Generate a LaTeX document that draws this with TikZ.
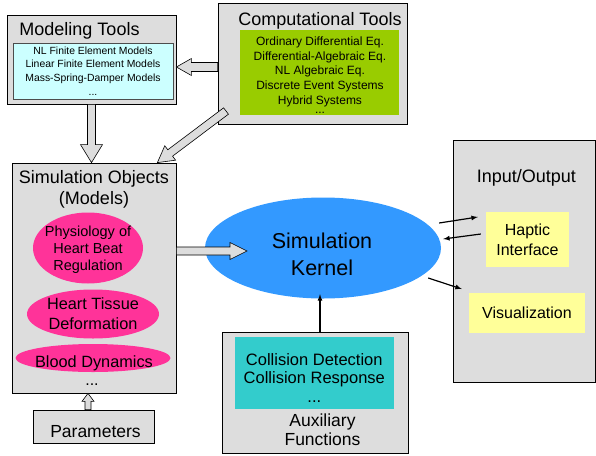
\documentclass[tikz,border=0pt]{standalone}
\usepackage{fontspec}
\setmainfont{Liberation Sans}
\usetikzlibrary{calc,shapes.geometric}

\definecolor{boxgray}{HTML}{DDDDDD}
\definecolor{modcyan}{HTML}{CCFFFF}
\definecolor{compgreen}{HTML}{99CC00}
\definecolor{objpink}{HTML}{FF3399}
\definecolor{kernblue}{HTML}{3399FF}
\definecolor{ioyellow}{HTML}{FFFF99}
\definecolor{auxteal}{HTML}{33CCCC}

% hollow block arrow: from, to, half shaft, half head, head length
\newcommand{\blockarrow}[5]{%
  \coordinate (ba-h) at ($(#2)!#5!(#1)$);
  \filldraw[fill=boxgray, draw=black, line width=0.6pt]
    ($(#1)!#3!90:(#2)$) -- ($(ba-h)!#3!-90:(#1)$) -- ($(ba-h)!#4!-90:(#1)$)
    -- (#2) -- ($(ba-h)!#4!90:(#1)$) -- ($(ba-h)!#3!90:(#1)$)
    -- ($(#1)!#3!-90:(#2)$) -- cycle;
}

\begin{document}
\begin{tikzpicture}[x=1pt,y=-1pt,>=latex,
  box/.style={draw=black, fill=boxgray, line width=0.8pt, inner sep=0pt},
  panel/.style={inner sep=0pt},
  blob/.style={ellipse, inner sep=0pt},
  conn/.style={->, line width=1.2pt},
  fsz/.style 2 args={font=\fontsize{#1}{#2}\selectfont, align=center, inner sep=0pt}]
\useasboundingbox (0,0) rectangle (596,455);

% modeling tools
\node[box, minimum width=169, minimum height=89] (model) at (91.5,59.5) {};
\node[panel, fill=modcyan, draw=black!70, line width=0.5pt, minimum width=160, minimum height=56, fsz={10.4}{13.7}] (modin) at (93,71)
  {NL Finite Element Models\\Linear Finite Element Models\\Mass-Spring-Damper Models\\...};
\node[fsz={18}{22}] (modtitle) at (79.5,30.4) {Modeling Tools};

% computational tools
\node[box, minimum width=189, minimum height=121] (comp) at (312.5,63.5) {};
\node[panel, fill=compgreen, minimum width=159, minimum height=85] (compin) at (319.5,72.5) {};
\node[fsz={12}{14.7}] (complist) at (320,75)
  {Ordinary Differential Eq.\\Differential-Algebraic Eq.\\NL Algebraic Eq.\\Discrete Event Systems\\Hybrid Systems\\[-6pt]...};
\node[fsz={18}{22}] (comptitle) at (320,20.4) {Computational Tools};

% simulation objects
\node[box, minimum width=164, minimum height=230] (simobj) at (94,278) {};
\node[fsz={18}{21}] (simtitle) at (94,189) {Simulation Objects\\(Models)};
\node[blob, fill=objpink, minimum width=110, minimum height=71] (physio) at (88,248) {};
\node[blob, fill=objpink, minimum width=132, minimum height=49] (tissue) at (93,314) {};
\node[blob, fill=objpink, minimum width=155, minimum height=28] (blood) at (93,358) {};
\node[fsz={14.5}{17.3}] (physiotext) at (88,249.6) {Physiology of\\Heart Beat\\Regulation};
\node[fsz={16.3}{19.3}] (tissuetext) at (93,313.7) {Heart Tissue\\Deformation};
\node[fsz={16.3}{19}] (bloodtext) at (94,363) {Blood Dynamics};
\node[fsz={16}{19}] (simdots) at (92,385) {...};

% parameters
\node[box, minimum width=121, minimum height=33] (param) at (93.5,426.5) {};
\node[fsz={17.5}{20}] (paramtext) at (95.5,432) {Parameters};

% kernel
\node[blob, fill=kernblue, minimum width=236, minimum height=101] (kernel) at (323,248) {};
\node[fsz={21.5}{26.7}] (kerneltext) at (322,254) {Simulation\\Kernel};

% input/output
\node[box, minimum width=142, minimum height=242] (io) at (524,261) {};
\node[fsz={18}{22}] (iotitle) at (526.3,178) {Input/Output};
\node[panel, fill=ioyellow, minimum width=83, minimum height=55, fsz={16}{19.7}] (hapt) at (527.5,239.5) {Haptic\\Interface};
\node[panel, fill=ioyellow, minimum width=116, minimum height=40, fsz={16}{19}] (visu) at (527,313) {Visualization};

% auxiliary functions
\node[box, minimum width=186, minimum height=121] (aux) at (315,392.5) {};
\node[panel, fill=auxteal, minimum width=159, minimum height=72] (auxin) at (314.5,373) {};
\node[fsz={16.5}{18.6}] (auxlist) at (314.3,378) {Collision Detection\\Collision Response\\...};
\node[fsz={17.5}{19}] (auxtitle) at (322.5,429.5) {Auxiliary\\Functions};

% block arrows
\coordinate (c2m-a) at (comp.west |- 0,67);
\coordinate (c2m-b) at (model.east |- 0,67);
\blockarrow{c2m-a}{c2m-b}{4.5pt}{8.5pt}{15pt}
\coordinate (m2s-a) at (model.south);
\coordinate (m2s-b) at (model.south |- simobj.north);
\blockarrow{m2s-a}{m2s-b}{4pt}{11pt}{18pt}
\coordinate (c2s-a) at (226,111);
\coordinate (c2s-b) at ($(simobj.north east)+(-19,0)$);
\blockarrow{c2s-a}{c2s-b}{4pt}{9pt}{16pt}
\coordinate (s2k-a) at (simobj.east |- 0,251);
\coordinate (s2k-b) at (247,251);
\blockarrow{s2k-a}{s2k-b}{4pt}{8.5pt}{17pt}
\coordinate (p2s-a) at ($(param.north)+(-5.5,0)$);
\coordinate (p2s-b) at (p2s-a |- simobj.south);
\blockarrow{p2s-a}{p2s-b}{3pt}{6pt}{8pt}

% plain arrows
\coordinate (k2h-a) at ($(kernel.east)+(-2,-25)$);
\coordinate (k2h-b) at ($(hapt.west)+(-8,-22.5)$);
\coordinate (h2k-a) at ($(hapt.west)+(-5,-5.5)$);
\coordinate (h2k-b) at ($(kernel.east)+(2,-9)$);
\coordinate (k2v-a) at ($(kernel.east)+(-13,30)$);
\coordinate (k2v-b) at ($(visu.west)+(-7,-24)$);
\coordinate (a2k-a) at ($(aux.north)+(5,0)$);
\coordinate (a2k-b) at ($(kernel.south)+(-3,-4.5)$);
\draw[conn] (k2h-a) -- (k2h-b);
\draw[conn] (h2k-a) -- (h2k-b);
\draw[conn] (k2v-a) -- (k2v-b);
\draw[conn] (a2k-a) -- (a2k-b);
\end{tikzpicture}
\end{document}
